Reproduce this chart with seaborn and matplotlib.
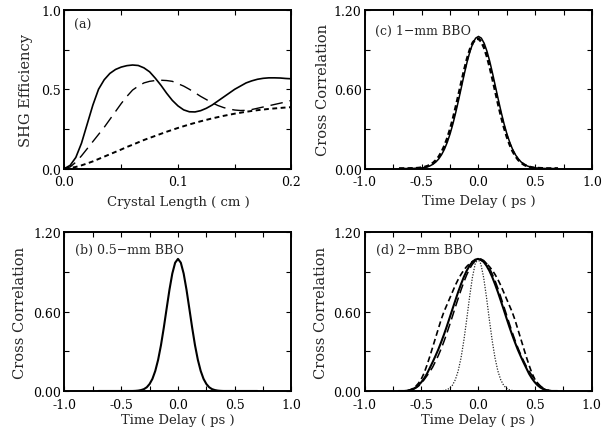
import matplotlib
matplotlib.use("Agg")
import matplotlib.pyplot as plt
import seaborn as sns
import pandas as pd
from matplotlib.ticker import MultipleLocator, FormatStrFormatter

# ---------------- data ----------------
length_cm = [0.000, 0.005, 0.010, 0.015, 0.020, 0.025, 0.030, 0.035, 0.040, 0.045,
             0.050, 0.055, 0.060, 0.065, 0.070, 0.075, 0.080, 0.085, 0.090, 0.095,
             0.100, 0.105, 0.110, 0.115, 0.120, 0.125, 0.130, 0.135, 0.140, 0.145,
             0.150, 0.155, 0.160, 0.165, 0.170, 0.175, 0.180, 0.185, 0.190, 0.195, 0.200]
shg_solid = [0.0, 0.02, 0.07, 0.16, 0.28, 0.40, 0.50, 0.56, 0.60, 0.625, 0.64, 0.649, 0.653,
             0.65, 0.635, 0.61, 0.57, 0.525, 0.475, 0.43, 0.395, 0.37, 0.358, 0.357, 0.365,
             0.38, 0.40, 0.425, 0.45, 0.475, 0.50, 0.52, 0.54, 0.553, 0.563, 0.569, 0.572,
             0.572, 0.571, 0.568, 0.566]
shg_dashed = [0.0, 0.01, 0.04, 0.08, 0.125, 0.17, 0.215, 0.26, 0.31, 0.36, 0.41, 0.455, 0.495,
              0.52, 0.54, 0.55, 0.555, 0.557, 0.555, 0.55, 0.535, 0.52, 0.50, 0.478, 0.455,
              0.435, 0.415, 0.398, 0.385, 0.375, 0.369, 0.366, 0.367, 0.372, 0.38, 0.388,
              0.396, 0.404, 0.412, 0.42, 0.43]
shg_dotted = [0.0, 0.003, 0.01, 0.02, 0.032, 0.045, 0.06, 0.075, 0.09, 0.105, 0.12, 0.136,
              0.15, 0.165, 0.18, 0.193, 0.206, 0.219, 0.232, 0.244, 0.256, 0.267, 0.278,
              0.288, 0.298, 0.307, 0.316, 0.324, 0.332, 0.339, 0.346, 0.352, 0.358, 0.363,
              0.368, 0.372, 0.376, 0.379, 0.382, 0.385, 0.387]

time_ps = [-0.7, -0.675, -0.65, -0.625, -0.6, -0.575, -0.55, -0.525, -0.5, -0.475, -0.45,
           -0.425, -0.4, -0.375, -0.35, -0.325, -0.3, -0.275, -0.25, -0.225, -0.2, -0.175,
           -0.15, -0.125, -0.1, -0.075, -0.05, -0.025, 0.0, 0.025, 0.05, 0.075, 0.1, 0.125,
           0.15, 0.175, 0.2, 0.225, 0.25, 0.275, 0.3, 0.325, 0.35, 0.375, 0.4, 0.425, 0.45,
           0.475, 0.5, 0.525, 0.55, 0.575, 0.6, 0.625, 0.65, 0.675, 0.7]

xc_b = [0, 0, 0, 0, 0, 0, 0, 0, 0, 0, 0, 0, 0, 0.001, 0.003, 0.007, 0.014, 0.028, 0.053, 0.092,
        0.152, 0.236, 0.346, 0.479, 0.624, 0.767, 0.889, 0.971, 1.0, 0.971, 0.889, 0.767,
        0.624, 0.479, 0.346, 0.236, 0.152, 0.092, 0.053, 0.028, 0.014, 0.007, 0.003, 0.001,
        0, 0, 0, 0, 0, 0, 0, 0, 0, 0, 0, 0, 0]

xc_c_solid = [0, 0, 0, 0, 0, 0.001, 0.002, 0.003, 0.005, 0.008, 0.013, 0.021, 0.033, 0.050,
              0.073, 0.105, 0.146, 0.199, 0.263, 0.339, 0.426, 0.520, 0.618, 0.716, 0.808,
              0.887, 0.948, 0.987, 1.0, 0.987, 0.948, 0.887, 0.808, 0.716, 0.618, 0.520,
              0.426, 0.339, 0.263, 0.199, 0.146, 0.105, 0.073, 0.050, 0.033, 0.021, 0.013,
              0.008, 0.005, 0.003, 0.002, 0.001, 0, 0, 0, 0, 0]
xc_c_dashed = [0, 0, 0, 0, 0.001, 0.001, 0.002, 0.004, 0.007, 0.011, 0.018, 0.027, 0.042,
               0.062, 0.089, 0.125, 0.171, 0.228, 0.297, 0.376, 0.465, 0.559, 0.655, 0.748,
               0.832, 0.902, 0.953, 0.980, 0.983, 0.960, 0.914, 0.848, 0.766, 0.674, 0.578,
               0.483, 0.393, 0.312, 0.241, 0.182, 0.133, 0.095, 0.066, 0.045, 0.030, 0.019,
               0.012, 0.007, 0.004, 0.003, 0.002, 0.001, 0, 0, 0, 0, 0]

xc_d_solid = [0, 0, 0, 0.002, 0.006, 0.014, 0.026, 0.043, 0.066, 0.095, 0.13, 0.174, 0.218,
              0.265, 0.314, 0.369, 0.427, 0.489, 0.554, 0.620, 0.685, 0.749, 0.808, 0.863,
              0.910, 0.948, 0.977, 0.994, 1.0, 0.994, 0.977, 0.948, 0.910, 0.863, 0.808,
              0.749, 0.685, 0.620, 0.554, 0.489, 0.427, 0.369, 0.314, 0.265, 0.218, 0.174,
              0.13, 0.095, 0.066, 0.043, 0.026, 0.014, 0.006, 0.002, 0, 0, 0]
xc_d_longdash = [0, 0, 0, 0.001, 0.004, 0.010, 0.021, 0.036, 0.058, 0.085, 0.115, 0.145, 0.18,
                 0.223, 0.268, 0.319, 0.375, 0.436, 0.500, 0.566, 0.634, 0.700, 0.764, 0.824,
                 0.878, 0.923, 0.959, 0.984, 0.998, 0.999, 0.988, 0.965, 0.931, 0.887, 0.835,
                 0.777, 0.713, 0.647, 0.580, 0.513, 0.448, 0.387, 0.330, 0.278, 0.231, 0.188,
                 0.150, 0.118, 0.088, 0.06, 0.038, 0.022, 0.011, 0.004, 0.001, 0, 0]
xc_d_dashed = [0, 0, 0.001, 0.003, 0.008, 0.018, 0.034, 0.058, 0.09, 0.135, 0.195, 0.26, 0.33,
               0.40, 0.47, 0.54, 0.60, 0.65, 0.70, 0.75, 0.80, 0.844, 0.882, 0.915, 0.942,
               0.963, 0.98, 0.99, 0.995, 0.99, 0.98, 0.963, 0.942, 0.915, 0.882, 0.844, 0.80,
               0.75, 0.70, 0.65, 0.60, 0.54, 0.47, 0.40, 0.33, 0.26, 0.195, 0.135, 0.09, 0.058,
               0.034, 0.018, 0.008, 0.003, 0.001, 0, 0]
xc_d_dotted = [0, 0, 0, 0, 0, 0, 0, 0, 0, 0, 0, 0, 0, 0, 0, 0.001, 0.004, 0.009, 0.021, 0.044,
               0.085, 0.151, 0.249, 0.381, 0.539, 0.707, 0.857, 0.962, 1.0, 0.962, 0.857,
               0.707, 0.539, 0.381, 0.249, 0.151, 0.085, 0.044, 0.021, 0.009, 0.004, 0.001,
               0, 0, 0, 0, 0, 0, 0, 0, 0, 0, 0, 0, 0, 0, 0]

panel_labels = ["(a)", "(b) 0.5\u2212mm BBO", "(c) 1\u2212mm BBO", "(d) 2\u2212mm BBO"]

# ---------------- style ----------------
sns.set_theme(style="ticks")
plt.rcParams['font.family'] = ['DejaVu Serif']
plt.rcParams['axes.unicode_minus'] = True

fig = plt.figure(figsize=(6.06, 4.35), dpi=100)
W, H = 0.3746, 0.3644
ax_a = fig.add_axes([0.1064, 0.6103, W, H])
ax_c = fig.add_axes([0.6023, 0.6103, W, H])
ax_b = fig.add_axes([0.1064, 0.0989, W, H])
ax_d = fig.add_axes([0.6015, 0.0989, W, H])


def draw(ax, x, y, **kw):
    df = pd.DataFrame({"x": x, "y": y})
    sns.lineplot(data=df, x="x", y="y", ax=ax, color="black", legend=False, **kw)


# panel (a)
draw(ax_a, length_cm, shg_solid, linewidth=1.2)
draw(ax_a, length_cm, shg_dashed, linewidth=1.0, linestyle=(0, (9, 5)))
draw(ax_a, length_cm, shg_dotted, linewidth=1.4, linestyle=(0, (2.5, 1.8)))

# panel (b)
draw(ax_b, time_ps, xc_b, linewidth=1.5)

# panel (c)
draw(ax_c, time_ps, xc_c_dashed, linewidth=1.9, linestyle=(0, (2.0, 1.2)))
draw(ax_c, time_ps, xc_c_solid, linewidth=1.1)

# panel (d)
draw(ax_d, time_ps, xc_d_dotted, linewidth=0.9, linestyle=(0, (1, 1.2)), alpha=0.85)
draw(ax_d, time_ps, xc_d_dashed, linewidth=1.2, linestyle=(0, (3.5, 2)))
draw(ax_d, time_ps, xc_d_longdash, linewidth=1.1, linestyle=(0, (6, 3)))
draw(ax_d, time_ps, xc_d_solid, linewidth=1.5)

# ---------------- axes formatting ----------------
for ax in (ax_a, ax_b, ax_c, ax_d):
    for s in ax.spines.values():
        s.set_linewidth(1.4)
        s.set_color("black")
        s.set_visible(True)
    ax.tick_params(which="both", direction="in", top=True, right=True,
                   length=3.5, width=0.8, colors="black", labelsize=9)
    ax.tick_params(axis="x", which="both", pad=5)
    ax.tick_params(axis="y", which="both", pad=2.5)
    ax.set_facecolor("white")

ax_a.set_xlim(0, 0.2)
ax_a.set_ylim(0, 1.0)
ax_a.xaxis.set_major_locator(MultipleLocator(0.1))
ax_a.xaxis.set_minor_locator(MultipleLocator(0.05))
ax_a.yaxis.set_major_locator(MultipleLocator(0.5))
ax_a.yaxis.set_minor_locator(MultipleLocator(0.25))
ax_a.xaxis.set_major_formatter(FormatStrFormatter("%.1f"))
ax_a.yaxis.set_major_formatter(FormatStrFormatter("%.1f"))
ax_a.set_xlabel("Crystal Length ( cm )", fontsize=9.5)
ax_a.set_ylabel("SHG Efficiency", fontsize=10.5)
ax_a.yaxis.set_label_coords(-0.137, 0.5)
ax_a.xaxis.set_label_coords(0.5, -0.17)

for ax, ylx, xly in ((ax_b, -0.167, -0.14), (ax_c, -0.154, -0.16), (ax_d, -0.16, -0.14)):
    ax.set_xlim(-1.0, 1.0)
    ax.set_ylim(0, 1.2)
    ax.xaxis.set_major_locator(MultipleLocator(0.5))
    ax.xaxis.set_minor_locator(MultipleLocator(0.25))
    ax.yaxis.set_major_locator(MultipleLocator(0.6))
    ax.yaxis.set_minor_locator(MultipleLocator(0.3))
    ax.xaxis.set_major_formatter(FormatStrFormatter("%.1f"))
    ax.yaxis.set_major_formatter(FormatStrFormatter("%.2f"))
    ax.set_xlabel("Time Delay ( ps )", fontsize=9.5)
    ax.set_ylabel("Cross Correlation", fontsize=10.5)
    ax.yaxis.set_label_coords(ylx, 0.5)
    ax.xaxis.set_label_coords(0.5, xly)

ax_a.text(0.04, 0.91, panel_labels[0], transform=ax_a.transAxes, fontsize=9, va="center")
ax_b.text(0.045, 0.89, panel_labels[1], transform=ax_b.transAxes, fontsize=9, va="center")
ax_c.text(0.045, 0.87, panel_labels[2], transform=ax_c.transAxes, fontsize=9, va="center")
ax_d.text(0.05, 0.89, panel_labels[3], transform=ax_d.transAxes, fontsize=9, va="center")

fig.savefig("out.png", dpi=100, facecolor="white")
